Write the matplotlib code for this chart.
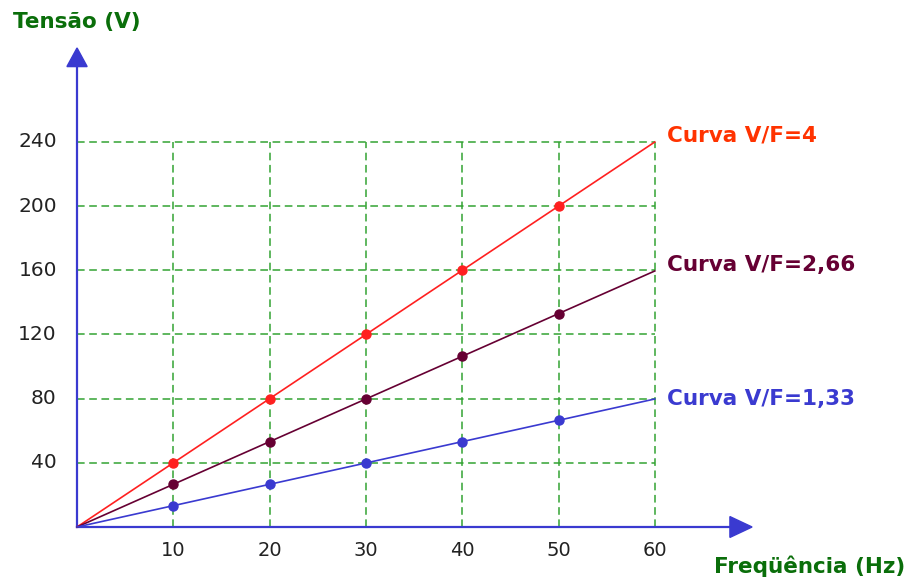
import matplotlib
matplotlib.use("Agg")
import matplotlib.pyplot as plt
from matplotlib.patches import Polygon

freq_pts = [10, 20, 30, 40, 50]
freq_line = [0, 10, 20, 30, 40, 50, 60]
v_red = [0, 40, 80, 120, 160, 200, 240]
v_purple = [0, 26.6, 53.2, 79.8, 106.4, 133, 159.6]
v_blue = [0, 13.3, 26.6, 39.9, 53.2, 66.5, 79.8]
x_ticks = [10, 20, 30, 40, 50, 60]
y_ticks = [40, 80, 120, 160, 200, 240]
labels = ["Curva V/F=4", "Curva V/F=2,66", "Curva V/F=1,33"]

fig = plt.figure(figsize=(9.07, 5.77), dpi=100)
ax = fig.add_axes([0, 0, 1, 1])
ax.set_xlim(-8.0, 86.19)
ax.set_ylim(-31.17, 328.5)
ax.axis("off")

grid_c = "#33a333"
for x in x_ticks:
    ax.plot([x, x], [0, 240], color=grid_c, lw=1.1, ls=(0, (5, 3)), zorder=1)
for y in y_ticks:
    ax.plot([0, 60], [y, y], color=grid_c, lw=1.1, ls=(0, (5, 3)), zorder=1)

axis_c = "#3a3ad0"
ax.plot([0, 0], [0, 288], color=axis_c, lw=1.6, zorder=2)
ax.plot([0, 68], [0, 0], color=axis_c, lw=1.6, zorder=2)
ax.add_patch(Polygon([[-1.05, 287], [1.05, 287], [0, 298.6]], closed=True, color=axis_c, zorder=3))
ax.add_patch(Polygon([[67.8, -6.5], [67.8, 6.5], [70.1, 0]], closed=True, color=axis_c, zorder=3))

series = [(v_red, "#ff2020", "#ff3300", 0), (v_purple, "#660033", "#660033", 0),
          (v_blue, "#3a3ad0", "#3a3ad0", -4)]
for (vals, c, tc, dy), lab in zip(series, labels):
    ax.plot(freq_line, vals, color=c, lw=1.2, zorder=4)
    ax.plot(freq_pts, vals[1:6], "o", color=c, ms=6.5, zorder=5)
    ax.text(61.3, vals[-1] + dy, lab, color=tc, fontsize=15.5, fontweight="bold",
            ha="left", va="baseline")

for x in x_ticks:
    ax.text(x, -14.5, str(x), ha="center", va="center", fontsize=14, color="#222222")
for y in y_ticks:
    ax.text(-2.1, y, str(y), ha="right", va="center", fontsize=14.5, color="#222222")

ax.text(-6.65, 314.8, "Tensão (V)", color="#0a6e0a", fontsize=15.5, fontweight="bold",
        ha="left", va="center")
ax.text(86.0, -28.7, "Freqüência (Hz)", color="#0a6e0a", fontsize=15.5, fontweight="bold",
        ha="right", va="baseline")

fig.savefig("out.png", dpi=100)
